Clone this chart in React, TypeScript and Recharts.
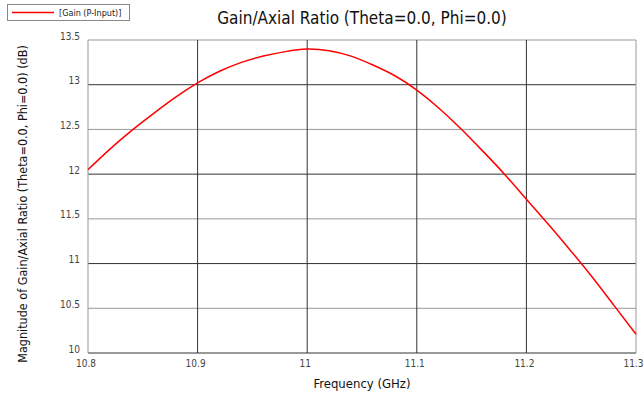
import React from 'react';
import { LineChart, Line, XAxis, YAxis, ReferenceLine } from 'recharts';

// Frequency sweep (GHz) and gain (dB)
const freqGHz = [10.8, 10.82, 10.84, 10.86, 10.88, 10.9, 10.92, 10.94, 10.96, 10.98, 11.0, 11.02, 11.04, 11.06, 11.08, 11.1, 11.12, 11.14, 11.16, 11.18, 11.2, 11.22, 11.24, 11.26, 11.28, 11.3];
const gainDb = [12.05, 12.28, 12.49, 12.68, 12.86, 13.02, 13.15, 13.25, 13.32, 13.37, 13.4, 13.38, 13.32, 13.22, 13.1, 12.94, 12.74, 12.51, 12.26, 12.0, 11.72, 11.44, 11.15, 10.85, 10.53, 10.21];

const xTicks = [10.8, 10.9, 11.0, 11.1, 11.2, 11.3];
const yTicks = [10, 10.5, 11, 11.5, 12, 12.5, 13, 13.5];
const xTickLabels = ['10.8', '10.9', '11', '11.1', '11.2', '11.3'];
const yTickLabels = ['10', '10.5', '11', '11.5', '12', '12.5', '13', '13.5'];

const seriesName = '[Gain (P-Input)]';
const title = 'Gain/Axial Ratio (Theta=0.0, Phi=0.0)';
const yTitle = 'Magnitude of Gain/Axial Ratio (Theta=0.0, Phi=0.0) (dB)';
const xTitle = 'Frequency (GHz)';

const data = freqGHz.map((f, i) => ({ f, gain: gainDb[i] }));

const FONT = '"DejaVu Sans Condensed", "Liberation Sans Narrow", sans-serif';

export default function App() {
  return (
    <div style={{ position: 'absolute', left: 0, top: 0, width: 644, height: 395, background: '#fff', fontFamily: FONT }}>
      <LineChart width={644} height={395} data={data} margin={{ top: 40, right: 8, bottom: 22, left: 30 }}>
        <XAxis
          dataKey="f"
          type="number"
          domain={[10.8, 11.3]}
          ticks={xTicks}
          tickFormatter={(v: number) => xTickLabels[xTicks.indexOf(v)] ?? String(v)}
          axisLine={false}
          tickLine={false}
          height={20}
          tick={{ fontSize: 10, fill: '#444', fontFamily: FONT, dy: -1, dx: -2 }}
        />
        <YAxis
          type="number"
          domain={[10, 13.5]}
          ticks={yTicks}
          tickFormatter={(v: number) => yTickLabels[yTicks.indexOf(v)] ?? String(v)}
          axisLine={false}
          tickLine={false}
          width={58}
          interval={0}
          tick={{ fontSize: 10, fill: '#444', fontFamily: FONT, dy: -4 }}
        />
        {yTicks.map((t) => (
          <ReferenceLine key={'h' + t} y={t} stroke={t % 1 === 0 && t !== 13.5 ? '#333' : '#999'} strokeWidth={1} />
        ))}
        {xTicks.map((t) => (
          <ReferenceLine key={'v' + t} x={t} stroke={t === 10.8 || t === 11.3 ? '#999' : '#333'} strokeWidth={1} />
        ))}
        <Line type="natural" dataKey="gain" stroke="#ff0000" strokeWidth={1.5} dot={false} isAnimationActive={false} />
      </LineChart>
      <svg width={644} height={395} style={{ position: 'absolute', left: 0, top: 0, pointerEvents: 'none' }}>
        <rect x={7.5} y={4.5} width={122} height={16} fill="#fff" stroke="#888" />
        <line x1={12} x2={54} y1={12.5} y2={12.5} stroke="#ff0000" strokeWidth={1.5} />
        <text x={59} y={16} fontSize={9} fill="#222" fontFamily={FONT}>{seriesName}</text>
        <text x={362} y={24} fontSize={17} fill="#111" textAnchor="middle" fontFamily={FONT}>{title}</text>
        <text x={362} y={388} fontSize={13} fill="#111" textAnchor="middle" fontFamily={FONT}>{xTitle}</text>
        <text
          x={0}
          y={0}
          transform="translate(27,204) rotate(-90)"
          fontSize={12.5}
          fill="#111"
          textAnchor="middle"
          fontFamily={FONT}
        >
          {yTitle}
        </text>
      </svg>
    </div>
  );
}
